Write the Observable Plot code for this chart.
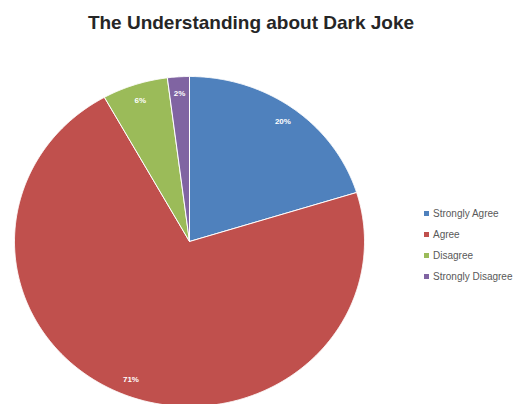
<!DOCTYPE html>
<html>
<head>
<meta charset="utf-8">
<script src="https://cdn.jsdelivr.net/npm/d3@7"></script>
<script src="https://cdn.jsdelivr.net/npm/@observablehq/plot@0.6"></script>
<style>
  html, body { margin: 0; padding: 0; background: #fff; }
  #wrap { position: relative; width: 526px; height: 404px; overflow: hidden; font-family: "Liberation Sans", Arial, sans-serif; }
  #title { position: absolute; left: 0; width: 502px; top: 12px; text-align: center; font-size: 19px; font-weight: bold; color: #262626; white-space: nowrap; }
  #legend { position: absolute; left: 424px; top: 203px; font-size: 10px; color: #595959; }
  #legend .row { height: 21px; line-height: 12px; display: flex; align-items: center; white-space: nowrap; }
  #legend .sw { width: 5px; height: 5px; margin-right: 4px; }
  #chart { position: absolute; left: 0; top: 0; }
</style>
</head>
<body>
<div id="wrap">
  <div id="chart"></div>
  <div id="title"></div>
  <div id="legend"></div>
</div>
<script>
const titleText = "The Understanding about Dark Joke";
const categories = ["Strongly Agree", "Agree", "Disagree", "Strongly Disagree"];
const values = [20, 71, 6, 2];
const labels = ["20%", "71%", "6%", "2%"];
const colors = ["#4F81BD", "#C0504D", "#9BBB59", "#8064A2"];

// slice geometry (unit circle, clockwise from 12 o'clock)
const total = d3.sum(values);
let acc = 0;
const slices = categories.map((c, i) => {
  const a0 = acc / total * 2 * Math.PI;
  acc += values[i];
  const a1 = acc / total * 2 * Math.PI;
  return {c, a0, a1, mid: (a0 + a1) / 2, label: labels[i]};
});
const pts = [];
for (const s of slices) {
  pts.push({c: s.c, x: 0, y: 0});
  const n = Math.max(4, Math.ceil((s.a1 - s.a0) / 0.005));
  for (let k = 0; k <= n; k++) {
    const a = s.a0 + (s.a1 - s.a0) * k / n;
    pts.push({c: s.c, x: Math.sin(a), y: Math.cos(a)});
  }
  pts.push({c: s.c, x: 0, y: 0});
}

const chart = Plot.plot({
  width: 526,
  height: 404,
  margin: 0,
  x: {domain: [-1, 1], range: [14, 364], axis: null},
  y: {domain: [-1, 1], range: [406, 76], axis: null},
  color: {domain: categories, range: colors},
  marks: [
    Plot.line(pts, {x: "x", y: "y", z: "c", fill: "c", stroke: "white", strokeWidth: 1, strokeLinejoin: "round", curve: "linear"}),
    Plot.text(slices, {
      x: d => 0.9 * Math.sin(d.mid),
      y: d => 0.9 * Math.cos(d.mid),
      text: "label", fill: "white", fontSize: 8, fontWeight: "bold",
      fontFamily: "Liberation Sans, Arial, sans-serif"
    })
  ]
});
document.getElementById("chart").appendChild(chart);
document.getElementById("title").textContent = titleText;

const color = chart.scale("color");
const leg = d3.select("#legend");
categories.forEach(c => {
  const row = leg.append("div").attr("class", "row");
  row.append("div").attr("class", "sw").style("background", color.apply(c));
  row.append("span").text(c);
});
</script>
</body>
</html>
